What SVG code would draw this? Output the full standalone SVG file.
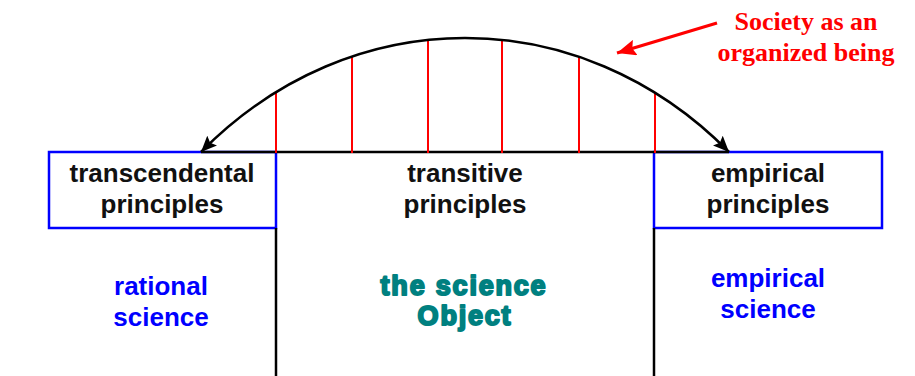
<svg xmlns="http://www.w3.org/2000/svg" width="915" height="376" viewBox="0 0 915 376">
  <style>
    .box { fill: #ffffff; stroke: #0000ff; stroke-width: 2.5; }
    .blk { fill: none; stroke: #000000; stroke-width: 2.5; }
    .rib { stroke: #ff0000; stroke-width: 2; }
    .lbl { font-family: "Liberation Sans", Arial, sans-serif; font-weight: bold; font-size: 26px; text-anchor: middle; fill: #111111; }
    .blue { fill: #0000ff; }
    .teal { font-size: 27px; fill: #008080; stroke: #008080; stroke-width: 2; stroke-linejoin: round; letter-spacing: 1.8px; }
    .soc { font-family: "Liberation Serif", "Times New Roman", serif; font-weight: bold; font-size: 26px; text-anchor: middle; fill: #ff0000; }
  </style>
  <defs>
    <marker id="ah" markerUnits="userSpaceOnUse" markerWidth="18" markerHeight="14" refX="16" refY="7" orient="auto-start-reverse">
      <path d="M0,0 L16,7 L0,14 L3,7 Z" fill="#000000"/>
    </marker>
    <marker id="rh" markerUnits="userSpaceOnUse" markerWidth="20" markerHeight="16" refX="19" refY="8" orient="auto">
      <path d="M0,0 L19,8 L0,16 L3,8 Z" fill="#ff0000"/>
    </marker>
  </defs>

  <g id="node-transcendental">
    <rect class="box" x="49" y="152" width="227" height="76"/>
    <text class="lbl" x="162" y="182">transcendental</text>
    <text class="lbl" x="162" y="213">principles</text>
  </g>

  <g id="node-empirical">
    <rect class="box" x="654" y="152" width="228" height="76"/>
    <text class="lbl" x="768" y="182">empirical</text>
    <text class="lbl" x="768" y="213">principles</text>
  </g>

  <g id="node-transitive">
    <text class="lbl" x="465" y="182">transitive</text>
    <text class="lbl" x="465" y="213">principles</text>
  </g>

  <g id="node-rational-science">
    <text class="lbl blue" x="161" y="295">rational</text>
    <text class="lbl blue" x="161" y="326">science</text>
  </g>

  <g id="node-science-object">
    <text class="lbl teal" x="464" y="295">the science</text>
    <text class="lbl teal" x="465" y="325">Object</text>
  </g>

  <g id="node-empirical-science">
    <text class="lbl blue" x="768" y="287">empirical</text>
    <text class="lbl blue" x="768" y="318">science</text>
  </g>

  <g id="node-society">
    <text class="soc" x="806" y="30">Society as an</text>
    <text class="soc" x="806" y="61">organized being</text>
  </g>

  <g id="connectors">
    <line class="blk" x1="201" y1="152" x2="729" y2="152"/>
    <line class="blk" x1="276" y1="228" x2="276" y2="376"/>
    <line class="blk" x1="654" y1="228" x2="654" y2="376"/>
    <line class="rib" x1="276" y1="92" x2="276" y2="153"/>
    <line class="rib" x1="352" y1="56" x2="352" y2="153"/>
    <line class="rib" x1="428" y1="40" x2="428" y2="153"/>
    <line class="rib" x1="502" y1="40" x2="502" y2="153"/>
    <line class="rib" x1="579" y1="56" x2="579" y2="153"/>
    <line class="rib" x1="655" y1="92" x2="655" y2="153"/>
    <path class="blk" d="M201,152 C351,0 579,0 729,152" marker-start="url(#ah)" marker-end="url(#ah)"/>
    <line x1="717" y1="23" x2="617" y2="53" stroke="#ff0000" stroke-width="3" marker-end="url(#rh)"/>
  </g>
</svg>
